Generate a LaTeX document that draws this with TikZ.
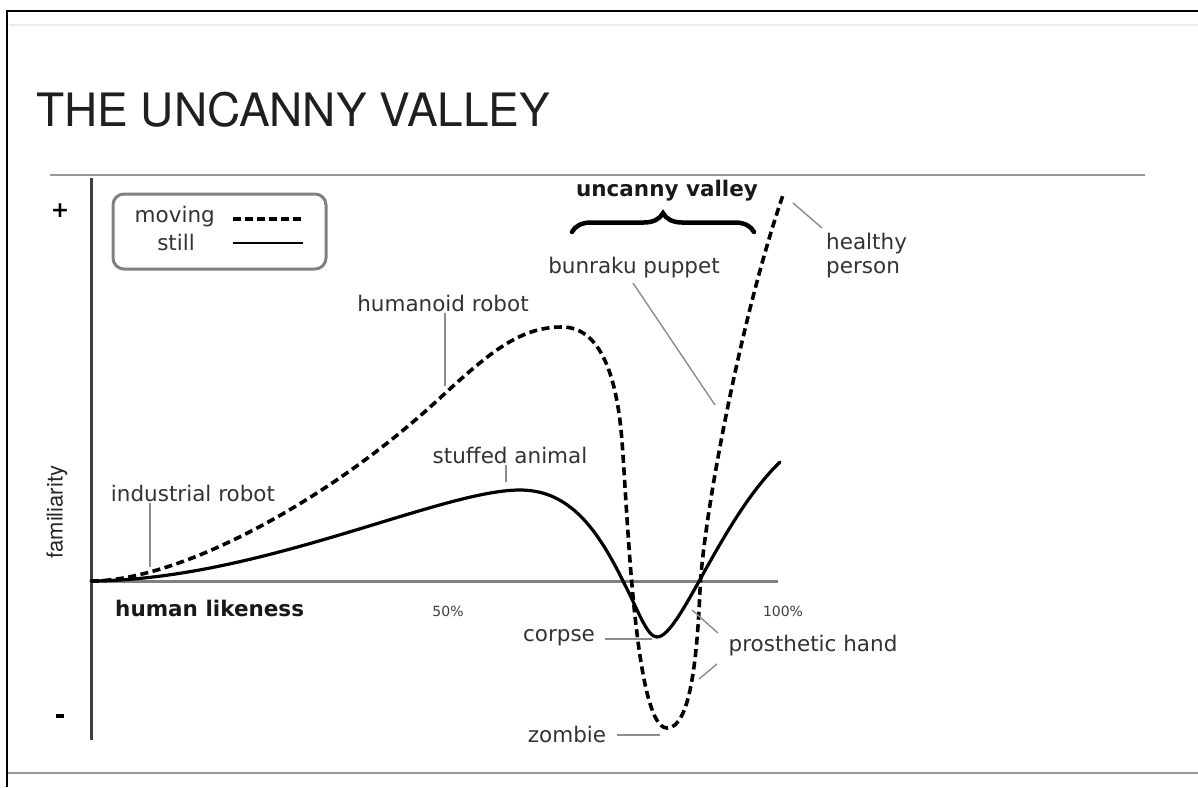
\documentclass[tikz,border=0pt]{standalone}
\usepackage{fontspec}
\setmainfont{DejaVu Sans}
\newfontfamily\titlefont{TeX Gyre Heros}
\usetikzlibrary{decorations.pathreplacing,calc}
\begin{document}
\begin{tikzpicture}[x=1pt,y=-1pt,
  lbl/.style={font=\fontsize{21.5}{24}\selectfont, text=black!80, inner sep=1pt},
  blbl/.style={font=\fontsize{21.5}{24}\selectfont\bfseries, text=black!90, inner sep=1pt},
  small/.style={font=\fontsize{14}{16}\selectfont, text=black!75, inner sep=1pt},
  leader/.style={draw=black!45, line width=1.4pt},
  movingc/.style={line width=3.6pt, dash pattern=on 8pt off 4.5pt, line join=round},
  stillc/.style={line width=3.2pt, line join=round, line cap=round},
]
\useasboundingbox (0,0) rectangle (1198,787);
\fill[white] (0,0) rectangle (1198,787);
% frame
\draw[line width=2.6pt, black] (7,787) -- (7,11) -- (1198,11);
\draw[line width=2pt, black!8] (9,25) -- (1198,25);
\draw[line width=1.6pt, black!40] (8,773) -- (1198,773);
\draw[line width=1.5pt, black!40] (50,175) -- (1145,175);
% title
\node[anchor=base west, inner sep=0, font=\titlefont\fontsize{46}{52}\selectfont, text=black!88] (title) at (36,126) {THE UNCANNY VALLEY};
% axes
\draw[line width=3pt, black!75] (91,178) -- (91,740);
\draw[line width=3pt, black!50] (91,581) -- (778,581);
\node[font=\fontsize{22}{24}\selectfont\bfseries, inner sep=0] (plus) at (60,211) {+};
\node[inner sep=0] (minus) at (60,716) {\rule{8pt}{3.4pt}};
\node[rotate=90, font=\titlefont\fontsize{22}{24}\selectfont, text=black!85, inner sep=0] (fam) at (57,512) {familiarity};
\node[blbl, anchor=west] (hl) at (114,608) {human likeness};
\node[small] (p50) at (448,611) {50\%};
\node[small] (p100) at (783,611) {100\%};
% legend
\draw[line width=3pt, black!50, rounded corners=11pt] (113,194) rectangle (326,269);
\node[lbl, anchor=east] (mov) at (216,217) {moving};
\node[lbl, anchor=east] (sti) at (196,242) {still};
\coordinate (ms) at (233,219);
\coordinate (me) at (303,219);
\coordinate (ss) at (233,243);
\coordinate (se) at (303,243);
\draw[line width=3.4pt, dash pattern=on 8pt off 4pt] (ms) -- (me);
\draw[line width=1.3pt] (ss) -- (se);
% curves
\coordinate (o) at (91,581);
\coordinate (speak) at (520,490);
\coordinate (smin) at (657,637);
\coordinate (send) at (780,462);
\draw[stillc] (o) .. controls (260,580) and (440,490) .. (speak)
  .. controls (570,490) and (598,530) .. (624,583)
  .. controls (638,610) and (647,637) .. (smin)
  .. controls (680,637) and (720,520) .. (send);
\coordinate (mpeak) at (562,327);
\coordinate (mmin) at (667,728);
\coordinate (mend) at (783,195);
\draw[movingc] (o) .. controls (180,581) and (330,500) .. (440,398)
  .. controls (490,352) and (520,327) .. (mpeak)
  .. controls (598,327) and (615,370) .. (621,430)
  .. controls (627,490) and (633,728) .. (mmin)
  .. controls (690,728) and (697,660) .. (700,590)
  .. controls (703,520) and (740,320) .. (mend);
% uncanny valley brace
\node[blbl] (uv) at (667,191) {uncanny valley};
\coordinate (bl) at (572,232);
\coordinate (br) at (754,232);
\draw[line width=4.5pt, line cap=round, decorate, decoration={brace, amplitude=19pt}] (bl) -- (br);
% labels and leaders
\node[lbl] (ind) at (193,493) {industrial robot};
\coordinate (ir) at (150,567);
\draw[leader] (ir |- ind.south) -- (ir);
\node[lbl] (hum) at (443,303) {humanoid robot};
\coordinate (hr) at (445,386);
\draw[leader] (hr |- hum.south) -- (hr);
\node[lbl] (stu) at (510,455) {stuffed animal};
\coordinate (sa) at (506,482);
\draw[leader] (506,465) -- (sa);
\node[lbl] (bun) at (634,268) {bunraku puppet};
\coordinate (bp) at (715,405);
\draw[leader] (633,283) -- (bp);
\node[lbl, align=left, anchor=west] (hp) at (825,256) {healthy\\person};
\coordinate (hpe) at (793,203);
\draw[leader] (822,228) -- (hpe);
\node[lbl] (cor) at (559,638) {corpse};
\coordinate (co) at (652,639);
\draw[leader] (605,639) -- (co);
\node[lbl] (zom) at (567,734) {zombie};
\coordinate (zo) at (660,735);
\draw[leader] (617,735) -- (zo);
\node[lbl] (pro) at (813,646) {prosthetic hand};
\coordinate (ph1) at (692,610);
\coordinate (ph2) at (699,679);
\draw[leader] (718,633) -- (ph1);
\draw[leader] (717,664) -- (ph2);
\end{tikzpicture}
\end{document}
